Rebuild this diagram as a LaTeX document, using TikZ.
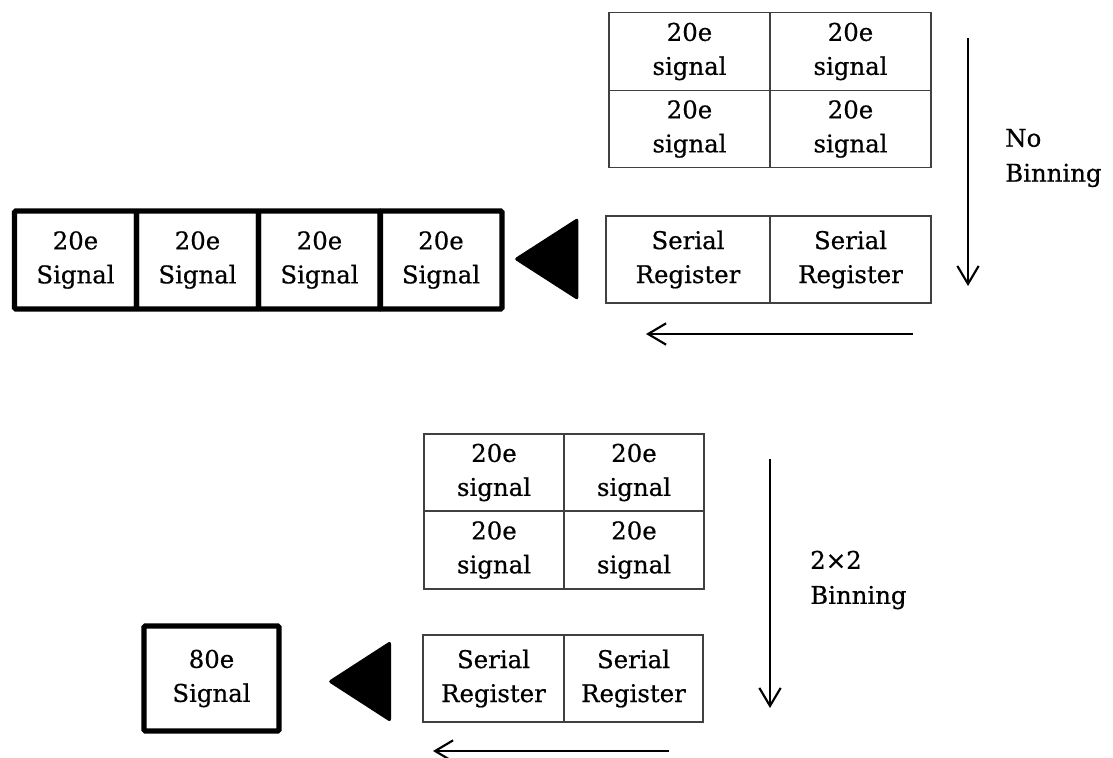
\documentclass[tikz,border=0pt]{standalone}
\usepackage{fontspec}
\setmainfont{DejaVu Serif}[FakeBold=0.6]
\usetikzlibrary{arrows.meta,shapes.geometric}
\begin{document}
\begin{tikzpicture}[x=0.75pt,y=-0.75pt,
  txt/.style={font=\fontsize{18.3}{25.5}\selectfont, align=center, text=black},
  cell/.style={txt, draw=black!75, line width=1.1pt, inner sep=0pt, outer sep=0pt},
  thick cell/.style={txt, draw=black, line width=3.9pt, inner sep=0pt, outer sep=0pt, rounded corners=1pt},
  tri/.style={isosceles triangle, isosceles triangle stretches, shape border rotate=180,
    fill=black, draw=black, line width=1pt, rounded corners=1.5pt, inner sep=0pt, outer sep=0pt, anchor=apex},
  flow/.style={line width=1.6pt, -{Straight Barb[length=13.5pt,width=16pt,line width=1.6pt]}},
  lbl/.style={font=\fontsize{18.3}{26.25}\selectfont, align=left, inner sep=0pt, anchor=west}
]
\useasboundingbox (0,0) rectangle (1113,757);

% ---------- No binning ----------
\node[cell, minimum width=120.75pt, minimum height=58.125pt] (a11) at (689.5,51.5) {20e\\signal};
\node[cell, minimum width=120.75pt, minimum height=58.125pt] (a12) at (850.5,51.5) {20e\\signal};
\node[cell, minimum width=120.75pt, minimum height=58.125pt] (a21) at (689.5,129) {20e\\signal};
\node[cell, minimum width=120.75pt, minimum height=58.125pt] (a22) at (850.5,129) {20e\\signal};

\node[cell, minimum width=123pt, minimum height=65.25pt] (sr1) at (688,259.5) {Serial\\Register};
\node[cell, minimum width=120.75pt, minimum height=65.25pt] (sr2) at (850.5,259.5) {Serial\\Register};

\node[thick cell, minimum width=91.5pt, minimum height=73.5pt] (o1) at (75.5,260) {20e\\Signal};
\node[thick cell, minimum width=91.5pt, minimum height=73.5pt] (o2) at (197.5,260) {20e\\Signal};
\node[thick cell, minimum width=91.5pt, minimum height=73.5pt] (o3) at (319.5,260) {20e\\Signal};
\node[thick cell, minimum width=91.5pt, minimum height=73.5pt] (o4) at (441,260) {20e\\Signal};

\node[tri, minimum height=47pt, minimum width=60.5pt] (t1) at (515,259) {};

\coordinate (d1s) at (968,38);
\coordinate (d1e) at (968,286);
\draw[flow] (d1s) -- (d1e);
\node[lbl] (nb) at (1005,158) {No\\Binning};

\coordinate (l1s) at (913,334);
\coordinate (l1e) at (646,334);
\draw[flow] (l1s) -- (l1e);

% ---------- 2x2 binning ----------
\node[cell, minimum width=105pt, minimum height=57.75pt] (b11) at (494,472.5) {20e\\signal};
\node[cell, minimum width=105pt, minimum height=57.75pt] (b12) at (634,472.5) {20e\\signal};
\node[cell, minimum width=105pt, minimum height=58.5pt] (b21) at (494,550) {20e\\signal};
\node[cell, minimum width=105pt, minimum height=58.5pt] (b22) at (634,550) {20e\\signal};

\node[cell, minimum width=105.75pt, minimum height=65.25pt] (sb1) at (493.5,678.5) {Serial\\Register};
\node[cell, minimum width=104.25pt, minimum height=65.25pt] (sb2) at (633.5,678.5) {Serial\\Register};

\node[thick cell, minimum width=101.25pt, minimum height=78.75pt] (ob) at (211.5,678.5) {80e\\Signal};

\node[tri, minimum height=46pt, minimum width=59.5pt] (t2) at (329,681.5) {};

\coordinate (d2s) at (770,459);
\coordinate (d2e) at (770,708);
\draw[flow] (d2s) -- (d2e);
\node[lbl] (bb) at (810,580) {2×2\\Binning};

\coordinate (l2s) at (669,751);
\coordinate (l2e) at (433,751);
\draw[flow] (l2s) -- (l2e);
\end{tikzpicture}
\end{document}
